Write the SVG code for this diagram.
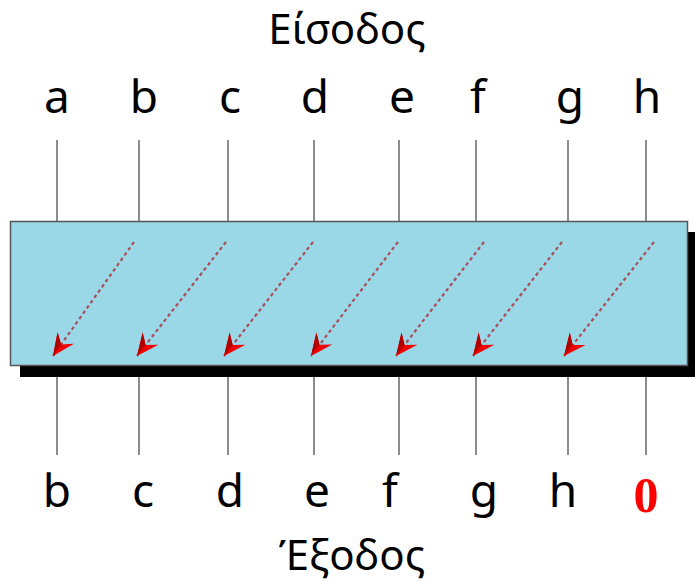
<svg xmlns="http://www.w3.org/2000/svg" width="695" height="582" viewBox="0 0 695 582">
  <style>
    .lbl { font-family: "Noto Sans", "Open Sans", sans-serif; font-size: 46px; fill: #000; text-anchor: middle; }
    .title { font-family: "Noto Sans", "Open Sans", sans-serif; font-size: 42px; fill: #000; text-anchor: middle; }
    .zero { font-family: "Liberation Serif", serif; font-weight: bold; font-size: 50px; fill: #ff0000; text-anchor: middle; }
    .tick { stroke: #666; stroke-width: 1.5; }
    .shift { stroke: #a8505a; stroke-width: 2.2; stroke-dasharray: 3.5 3; fill: none; marker-end: url(#head); }
  </style>
  <defs>
    <marker id="head" viewBox="-24 -11 26 22" markerWidth="26" markerHeight="22" refX="0" refY="0" orient="auto" markerUnits="userSpaceOnUse">
      <path d="M 0,0 L -22,-10 L -14,0 L -22,10 Z" fill="#f00000"/>
      <path d="M 0,0 L -14,0 L -22,10 Z" fill="#b00000"/>
    </marker>
  </defs>

  <!-- register body with drop shadow -->
  <g id="register">
    <rect x="20" y="232" width="675" height="145" fill="#000"/>
    <rect x="10.5" y="221.5" width="677" height="144" fill="#9ad8e8" stroke="#555" stroke-width="1.5"/>
  </g>

  <!-- input and output taps -->
  <g id="connectors">
    <line class="tick" x1="57" y1="140" x2="57" y2="221"/>
    <line class="tick" x1="139" y1="140" x2="139" y2="221"/>
    <line class="tick" x1="228" y1="140" x2="228" y2="221"/>
    <line class="tick" x1="314" y1="140" x2="314" y2="221"/>
    <line class="tick" x1="399" y1="140" x2="399" y2="221"/>
    <line class="tick" x1="476" y1="140" x2="476" y2="221"/>
    <line class="tick" x1="568" y1="140" x2="568" y2="221"/>
    <line class="tick" x1="646" y1="140" x2="646" y2="221"/>

    <line class="tick" x1="57" y1="377" x2="57" y2="455"/>
    <line class="tick" x1="139" y1="377" x2="139" y2="455"/>
    <line class="tick" x1="228" y1="377" x2="228" y2="455"/>
    <line class="tick" x1="314" y1="377" x2="314" y2="455"/>
    <line class="tick" x1="399" y1="377" x2="399" y2="455"/>
    <line class="tick" x1="476" y1="377" x2="476" y2="455"/>
    <line class="tick" x1="568" y1="377" x2="568" y2="455"/>
    <line class="tick" x1="646" y1="377" x2="646" y2="455"/>

    <!-- one-position left shift -->
    <line class="shift" x1="134" y1="242" x2="53" y2="356"/>
    <line class="shift" x1="226" y1="242" x2="137" y2="356"/>
    <line class="shift" x1="313" y1="242" x2="224" y2="356"/>
    <line class="shift" x1="398" y1="242" x2="311" y2="356"/>
    <line class="shift" x1="484" y1="242" x2="396" y2="356"/>
    <line class="shift" x1="562" y1="242" x2="473" y2="356"/>
    <line class="shift" x1="654" y1="242" x2="564" y2="356"/>
  </g>

  <g id="input-title"><text class="title" x="347" y="44">Είσοδος</text></g>
  <g id="inputs">
    <text class="lbl" x="57" y="113">a</text>
    <text class="lbl" x="144" y="113">b</text>
    <text class="lbl" x="230" y="113">c</text>
    <text class="lbl" x="315" y="113">d</text>
    <text class="lbl" x="402" y="113">e</text>
    <text class="lbl" x="478" y="113">f</text>
    <text class="lbl" x="570" y="113">g</text>
    <text class="lbl" x="647" y="113">h</text>
  </g>
  <g id="outputs">
    <text class="lbl" x="57" y="507">b</text>
    <text class="lbl" x="143" y="507">c</text>
    <text class="lbl" x="230" y="507">d</text>
    <text class="lbl" x="317" y="507">e</text>
    <text class="lbl" x="390" y="507">f</text>
    <text class="lbl" x="484" y="507">g</text>
    <text class="lbl" x="563" y="507">h</text>
    <text class="zero" x="646" y="512">0</text>
  </g>
  <g id="output-title"><text class="title" x="352" y="570">Έξοδος</text></g>
</svg>
